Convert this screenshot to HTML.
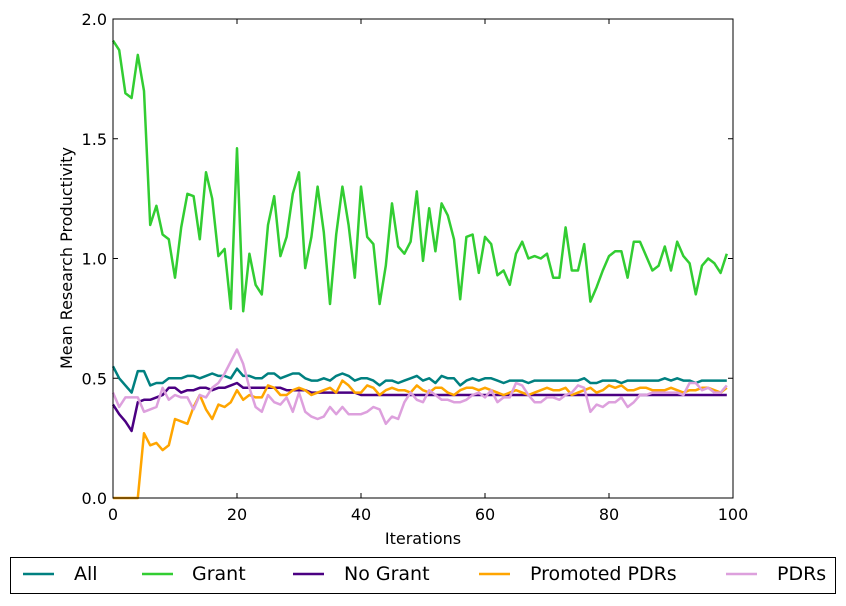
<!DOCTYPE html>
<html><head><meta charset="utf-8">
<style>
body{margin:0;background:#fff;font-family:"DejaVu Sans",sans-serif;}
svg text{font-family:"DejaVu Sans",sans-serif;}
</style></head>
<body>
<svg id="chart" width="846" height="602" viewBox="0 0 846 602" xmlns="http://www.w3.org/2000/svg">
<rect width="846" height="602" fill="#fff"/>
<g id="series"></g>
<rect x="113" y="19" width="620" height="479" fill="none" stroke="#000" stroke-width="1"/>
<g id="axes"></g>
<text x="423" y="544" font-size="16" text-anchor="middle">Iterations</text>
<text transform="translate(72,258) rotate(-90)" font-size="16" text-anchor="middle">Mean Research Productivity</text>
<rect x="10.5" y="557.5" width="825" height="36" fill="#fff" stroke="#000"/>
<g id="legend"></g>
</svg>
<script>
const iterations = Array.from({length:100},(_, i)=>i);
const allVals=[0.55,0.50,0.47,0.44,0.53,0.53,0.47,0.48,0.48,0.50,0.50,0.50,0.51,0.51,0.50,0.51,0.52,0.51,0.51,0.50,0.54,0.51,0.51,0.50,0.50,0.52,0.52,0.50,0.51,0.52,0.52,0.50,0.49,0.49,0.50,0.49,0.51,0.52,0.51,0.49,0.50,0.50,0.49,0.47,0.49,0.49,0.48,0.49,0.50,0.51,0.49,0.50,0.48,0.51,0.50,0.50,0.47,0.49,0.50,0.49,0.50,0.50,0.49,0.48,0.49,0.49,0.49,0.48,0.49,0.49,0.49,0.49,0.49,0.49,0.49,0.49,0.50,0.48,0.48,0.49,0.49,0.49,0.48,0.49,0.49,0.49,0.49,0.49,0.49,0.50,0.49,0.50,0.49,0.49,0.48,0.49,0.49,0.49,0.49,0.49];
const grantVals=[1.91,1.87,1.69,1.67,1.85,1.70,1.14,1.22,1.10,1.08,0.92,1.13,1.27,1.26,1.08,1.36,1.25,1.01,1.04,0.79,1.46,0.78,1.02,0.89,0.85,1.14,1.26,1.01,1.09,1.27,1.36,0.96,1.09,1.30,1.11,0.81,1.10,1.30,1.14,0.92,1.30,1.09,1.06,0.81,0.97,1.23,1.05,1.02,1.07,1.28,0.99,1.21,1.03,1.23,1.18,1.08,0.83,1.09,1.10,0.94,1.09,1.06,0.93,0.95,0.89,1.02,1.07,1.00,1.01,1.00,1.02,0.92,0.92,1.13,0.95,0.95,1.06,0.82,0.88,0.95,1.01,1.03,1.03,0.92,1.07,1.07,1.01,0.95,0.97,1.05,0.95,1.07,1.01,0.98,0.85,0.97,1.00,0.98,0.94,1.02];
const noGrantVals=[0.39,0.35,0.32,0.28,0.40,0.41,0.41,0.42,0.43,0.46,0.46,0.44,0.45,0.45,0.46,0.46,0.45,0.46,0.46,0.47,0.48,0.46,0.46,0.46,0.46,0.46,0.46,0.46,0.45,0.45,0.45,0.45,0.44,0.44,0.44,0.44,0.44,0.44,0.44,0.44,0.43,0.43,0.43,0.43,0.43,0.43,0.43,0.43,0.43,0.43,0.43,0.43,0.43,0.43,0.43,0.43,0.43,0.43,0.43,0.43,0.43,0.43,0.43,0.43,0.43,0.43,0.43,0.43,0.43,0.43,0.43,0.43,0.43,0.43,0.43,0.43,0.43,0.43,0.43,0.43,0.43,0.43,0.43,0.43,0.43,0.43,0.43,0.43,0.43,0.43,0.43,0.43,0.43,0.43,0.43,0.43,0.43,0.43,0.43,0.43];
const promotedVals=[0,0,0,0,0,0.27,0.22,0.23,0.20,0.22,0.33,0.32,0.31,0.38,0.43,0.37,0.33,0.39,0.38,0.40,0.45,0.41,0.43,0.42,0.42,0.47,0.46,0.43,0.43,0.45,0.46,0.45,0.43,0.44,0.45,0.46,0.44,0.49,0.47,0.44,0.44,0.47,0.46,0.43,0.45,0.46,0.45,0.45,0.44,0.47,0.45,0.44,0.46,0.46,0.44,0.43,0.45,0.46,0.46,0.45,0.46,0.45,0.44,0.43,0.44,0.45,0.44,0.43,0.44,0.45,0.46,0.45,0.45,0.46,0.43,0.44,0.45,0.46,0.44,0.45,0.47,0.46,0.47,0.45,0.45,0.46,0.46,0.45,0.45,0.45,0.46,0.45,0.44,0.45,0.45,0.46,0.46,0.45,0.44,0.46];
const pdrVals=[0.44,0.38,0.42,0.42,0.42,0.36,0.37,0.38,0.46,0.41,0.43,0.42,0.42,0.37,0.43,0.42,0.46,0.48,0.52,0.57,0.62,0.56,0.46,0.38,0.36,0.43,0.40,0.39,0.42,0.36,0.44,0.36,0.34,0.33,0.34,0.38,0.35,0.38,0.35,0.35,0.35,0.36,0.38,0.37,0.31,0.34,0.33,0.40,0.44,0.41,0.40,0.45,0.43,0.41,0.41,0.40,0.40,0.41,0.43,0.44,0.42,0.45,0.40,0.42,0.42,0.48,0.47,0.43,0.40,0.40,0.42,0.42,0.41,0.43,0.44,0.47,0.46,0.36,0.39,0.38,0.40,0.40,0.42,0.38,0.40,0.43,0.43,0.44,0.44,0.44,0.44,0.44,0.43,0.48,0.48,0.45,0.46,0.44,0.44,0.47];
const xTicks=[0,20,40,60,80,100];
const yTicks=[0.0,0.5,1.0,1.5,2.0];
const seriesNames=["All","Grant","No Grant","Promoted PDRs","PDRs"];

const NS="http://www.w3.org/2000/svg";
const X0=113,X1=733,Y0=498,Y1=19;
const xs=v=>X0+(v/100)*(X1-X0);
const ys=v=>Y0-(v/2)*(Y0-Y1);
function mk(t,a){const e=document.createElementNS(NS,t);for(const k in a)e.setAttribute(k,a[k]);return e;}
const series=[
 {name:seriesNames[0],vals:allVals,color:"#008080"},
 {name:seriesNames[1],vals:grantVals,color:"#32cd32"},
 {name:seriesNames[2],vals:noGrantVals,color:"#4b0082"},
 {name:seriesNames[3],vals:promotedVals,color:"#ffa500"},
 {name:seriesNames[4],vals:pdrVals,color:"#dda0dd"}];
const g=document.getElementById("series");
[1,0,2,3,4].forEach(i=>{const s=series[i];
 const d=s.vals.map((v,j)=>(j?"L":"M")+xs(iterations[j]).toFixed(1)+","+ys(v).toFixed(1)).join("");
 const p=mk("path",{d:d,fill:"none",stroke:s.color,"stroke-width":2.5,"stroke-linejoin":"round"});
 
 
 g.appendChild(p);});
const ax=document.getElementById("axes");
xTicks.forEach(t=>{const x=xs(t);
 ax.appendChild(mk("line",{x1:x,x2:x,y1:Y0,y2:Y0-5,stroke:"#000"}));
 ax.appendChild(mk("line",{x1:x,x2:x,y1:Y1,y2:Y1+5,stroke:"#000"}));
 const tx=mk("text",{x:x,y:Y0+22,"font-size":16,"text-anchor":"middle"});tx.textContent=t;
 
 
 ax.appendChild(tx);});
yTicks.forEach(t=>{const y=ys(t);
 ax.appendChild(mk("line",{x1:X0,x2:X0+5,y1:y,y2:y,stroke:"#000"}));
 ax.appendChild(mk("line",{x1:X1,x2:X1-5,y1:y,y2:y,stroke:"#000"}));
 const tx=mk("text",{x:X0-6,y:y+6,"font-size":16,"text-anchor":"end"});tx.textContent=t.toFixed(1);
 
 
 ax.appendChild(tx);});
const lg=document.getElementById("legend");
const lx=[23,142,293,479,726];
const tx0=[74,192,344,530,777];
series.forEach((s,i)=>{
 const e=mk("g",{});
 
 
 e.appendChild(mk("line",{x1:lx[i],x2:lx[i]+31,y1:574,y2:574,stroke:s.color,"stroke-width":2.5}));
 const t=mk("text",{x:tx0[i],y:580,"font-size":19});t.textContent=s.name;
 e.appendChild(t);lg.appendChild(e);});
</script>
</body></html>
